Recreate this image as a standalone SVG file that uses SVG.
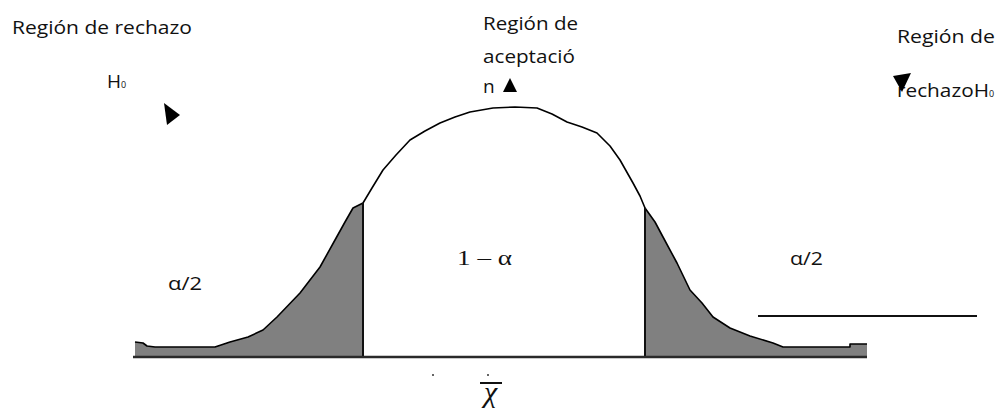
<svg xmlns="http://www.w3.org/2000/svg" width="998" height="409" viewBox="0 0 998 409">
<style>
.lbl{font-family:"Open Sans","Liberation Sans",sans-serif;font-size:19px;fill:#111}
.sub{font-family:"Open Sans","Liberation Sans",sans-serif;font-size:9px;fill:#111}
.math{font-family:"Liberation Serif","DejaVu Serif",serif;fill:#111}
.tail{fill:#808080;stroke:none}
.curve{fill:none;stroke:#000;stroke-width:1.6;stroke-linejoin:round}
.edge{stroke:#111;stroke-width:2}
.base{stroke:#2a2a2a;stroke-width:2.6}
.arrow{fill:#000}
</style>
<g id="shading">
<path class="tail" d="M135,357 L135,342 L143,343 L147,346 L155,347 L215,347 L230,342 L248,337 L263,330 L277,317 L300,293 L320,267 L335,240 L345,222 L353,208 L363,203 L363,357 Z"/>
<path class="tail" d="M645,208 L655,222 L663,237 L677,263 L690,290 L702,303 L713,317 L730,328 L750,336 L773,343 L783,347 L850,347 L850,344 L867,344 L867,357 L645,357 Z"/>
</g>
<g id="curve">
<path class="curve" d="M135,342 L143,343 L147,346 L155,347 L215,347 L230,342 L248,337 L263,330 L277,317 L300,293 L320,267 L335,240 L345,222 L353,208 L363,203 L372,188 L383,170 L396,155 L410,140 L425,131 L440,123 L455,117 L470,112 L493,108 L515,107 L537,108 L552,114 L567,122 L582,127 L597,133 L610,146 L620,160 L633,183 L640,196 L645,208 L655,222 L663,237 L677,263 L690,290 L702,303 L713,317 L730,328 L750,336 L773,343 L783,347 L850,347 L850,344 L867,344"/>
</g>
<g id="connectors">
<line class="edge" x1="363" y1="203" x2="363" y2="357"/>
<line class="edge" x1="645" y1="208" x2="645" y2="357"/>
<line class="base" x1="133" y1="357" x2="867" y2="357"/>
<line class="edge" x1="758" y1="316" x2="977" y2="316" stroke-width="1.8"/>
<line class="edge" x1="480" y1="383" x2="502" y2="383" stroke-width="2"/>
</g>
<g id="left-label">
<text class="lbl" x="12" y="34" textLength="180" lengthAdjust="spacingAndGlyphs">Región de rechazo</text>
<text class="lbl" x="107" y="88">H</text>
<text class="sub" x="121" y="88">0</text>
<polygon class="arrow" points="164,103 180,115 167,125"/>
</g>
<g id="center-label">
<text class="lbl" x="483" y="30" textLength="95" lengthAdjust="spacingAndGlyphs">Región de</text>
<text class="lbl" x="483" y="63" textLength="92" lengthAdjust="spacingAndGlyphs">aceptació</text>
<text class="lbl" x="483" y="93">n</text>
<polygon class="arrow" points="510,78 517,92 503,92"/>
</g>
<g id="right-label">
<text class="lbl" x="897" y="43" textLength="98" lengthAdjust="spacingAndGlyphs">Región de</text>
<text class="lbl" x="897" y="97" textLength="92" lengthAdjust="spacingAndGlyphs">rechazoH</text>
<text class="sub" x="989" y="97">0</text>
<polygon class="arrow" points="893,76 911,73 902,92"/>
</g>
<g id="alpha-left">
<text class="lbl" x="168" y="290" font-size="18" textLength="34" lengthAdjust="spacingAndGlyphs">α/2</text>
</g>
<g id="alpha-right">
<text class="lbl" x="790" y="265" font-size="18" textLength="33" lengthAdjust="spacingAndGlyphs">α/2</text>
</g>
<g id="acceptance-area">
<text class="math" x="457" y="265" font-size="20" textLength="55" lengthAdjust="spacingAndGlyphs">1 – α</text>
</g>
<g id="mean">
<circle cx="433" cy="375" r="1" fill="#333"/>
<circle cx="488" cy="375" r="1" fill="#333"/>
<text class="math" x="484" y="402" font-size="30" font-style="italic">χ</text>
</g>
</svg>
